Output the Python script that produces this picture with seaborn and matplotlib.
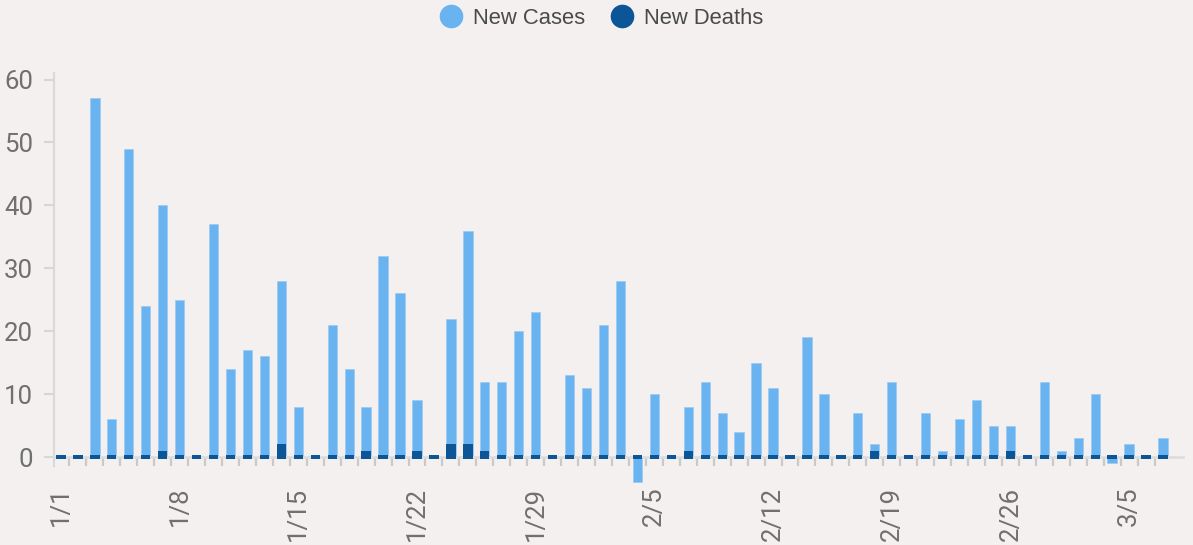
import numpy as np
import pandas as pd
import matplotlib
matplotlib.use("Agg")
import matplotlib.pyplot as plt
from matplotlib.lines import Line2D
import seaborn as sns

# ---- data ----
dates = [f"{d.month}/{d.day}" for d in pd.date_range("2021-01-01", "2021-03-07")]
new_cases = [0, 0, 57, 6, 49, 24, 40, 25, 0, 37, 14, 17, 16, 28, 8, 0,
             21, 14, 8, 32, 26, 9, 0, 22, 36, 12, 12, 20, 23, 0, 13,
             11, 21, 28, -4, 10, 0, 8, 12, 7, 4, 15, 11, 0, 19, 10, 0, 7, 2, 12, 0,
             7, 1, 6, 9, 5, 5, 0, 12,
             1, 3, 10, -1, 2, 0, 3]
new_deaths = [0, 0, 0, 0, 0, 0, 1, 0, 0, 0, 0, 0, 0, 2, 0, 0,
              0, 0, 1, 0, 0, 1, 0, 2, 2, 1, 0, 0, 0, 0, 0,
              0, 0, 0, 0, 0, 0, 1, 0, 0, 0, 0, 0, 0, 0, 0, 0, 0, 1, 0, 0,
              0, 0, 0, 0, 0, 1, 0, 0,
              0, 0, 0, 0, 0, 0, 0]
tick_labels = ["1/1", "1/8", "1/15", "1/22", "1/29", "2/5", "2/12", "2/19", "2/26", "3/5"]
y_ticks = [0, 10, 20, 30, 40, 50, 60]

CASES_COLOR = "#69b3f1"
DEATHS_COLOR = "#0c5597"
BG = "#f3f0ef"

sns.set_theme(style="white")
plt.rcParams["font.family"] = ["Roboto", "DejaVu Sans"]

df = pd.DataFrame({"date": dates, "cases": new_cases, "deaths": new_deaths})

fig = plt.figure(figsize=(11.93, 5.45), dpi=100, facecolor=BG)
ax = fig.add_axes([0.04526, 0.11183, 0.94636, 0.7537])
ax.set_facecolor(BG)

bw = 0.55
sns.barplot(data=df, x="date", y="cases", order=dates, color=CASES_COLOR,
            saturation=1, width=bw, errorbar=None, ax=ax,
            edgecolor="#9ccbf3", linewidth=0.5, zorder=3)
# small zero-height stubs for deaths (as rendered in the original chart)
pos = np.arange(len(dates))
ax.bar(pos, 0.64, bottom=-0.32, width=bw, color=DEATHS_COLOR, linewidth=0, zorder=4)
sns.barplot(data=df, x="date", y="deaths", order=dates, color=DEATHS_COLOR,
            saturation=1, width=bw, errorbar=None, ax=ax, linewidth=0, zorder=4)

ax.set_xlim(-0.41, len(dates) + 0.18)
ax.set_ylim(-4.3, 61)
ax.set_xlabel("")
ax.set_ylabel("")

# spines
for s in ["top", "right"]:
    ax.spines[s].set_visible(False)
ax.spines["bottom"].set_position(("data", 0))
ax.spines["bottom"].set_color("#dcdcdc")
ax.spines["bottom"].set_linewidth(1.8)
ax.spines["bottom"].set_zorder(3.5)
ax.spines["left"].set_color("#d9d9d9")
ax.spines["left"].set_linewidth(1.5)
ax.spines["left"].set_bounds(-1.43, 61)

# x ticks
major_pos = [dates.index(t) for t in tick_labels]
ax.set_xticks(major_pos)
ax.set_xticklabels(tick_labels, rotation=90)
ax.set_xticks(pos[:-1] + 0.5, minor=True)
ax.tick_params(axis="x", which="major", length=0, pad=21.5, labelsize=18.5,
               labelcolor="#707070")
ax.tick_params(axis="x", which="minor", length=6.5, width=1.6, color="#c9c9c9",
               bottom=True, direction="out")

# y ticks
ax.set_yticks(y_ticks)
ax.tick_params(axis="y", which="major", length=7.5, width=1.5, color="#d6d6d6",
               pad=7.5, labelsize=18.5, labelcolor="#707070", left=True)

# legend
handles = [Line2D([0], [0], marker="o", linestyle="", markersize=16,
                  markerfacecolor=CASES_COLOR, markeredgecolor=CASES_COLOR),
           Line2D([0], [0], marker="o", linestyle="", markersize=16,
                  markerfacecolor=DEATHS_COLOR, markeredgecolor=DEATHS_COLOR)]
leg = fig.legend(handles, ["New Cases", "New Deaths"], loc="center",
                 bbox_to_anchor=(0.503, 0.966), ncol=2, frameon=False,
                 handletextpad=0.35, columnspacing=1.0, handlelength=1.3,
                 prop={"family": ["Liberation Sans", "DejaVu Sans"], "size": 15.8})
for t in leg.get_texts():
    t.set_color("#4a4a4a")

fig.savefig("out.png", dpi=100, facecolor=BG)
